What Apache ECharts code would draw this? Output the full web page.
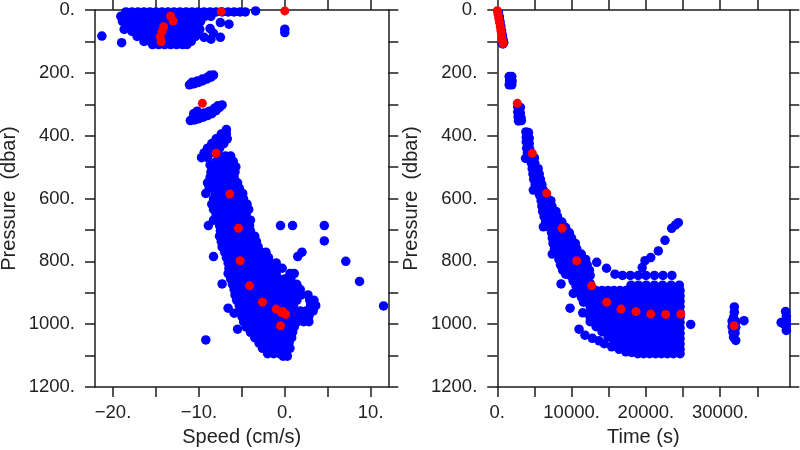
<!DOCTYPE html>
<html>
<head>
<meta charset="utf-8">
<script src="https://cdn.jsdelivr.net/npm/echarts@6/dist/echarts.min.js"></script>
<style>
html,body{margin:0;padding:0;background:#fff;}
#chart{width:800px;height:450px;}
</style>
</head>
<body>
<div id="chart"></div>
<script>
// ---------- axis ticks / labels ----------
const speedTicks = [-20, -15, -10, -5, 0, 5, 10];
const speedLabels = [-20, -10, 0, 10];
const timeTicks = [0, 5000, 10000, 15000, 20000, 25000, 30000, 35000];
const timeLabels = [0, 10000, 20000, 30000];
const pressureLabelStep = 200;

// ---------- left panel: speed (cm/s) vs pressure (dbar), blue ----------
const speedSurface = [
[-18.5,6],[-17.8,6],[-17.1,6],[-16.4,6],[-15.7,6],[-15.0,6],[-14.3,6],[-13.6,6],[-12.9,6],[-12.2,6],[-11.5,6],[-10.8,6],[-10.1,6],[-9.4,6],[-8.7,6],[-8.0,6],[-7.3,6],[-6.6,6],[-5.9,6],[-5.2,6],[-4.6,6],[-3.4,3],
[-19.1,20],[-18.4,20],[-17.7,20],[-17.0,20],[-16.3,20],[-15.6,20],[-14.9,20],[-14.2,20],[-13.5,20],[-12.8,20],[-12.1,20],[-11.4,20],[-10.7,20],[-10.0,20],[-9.3,20],[-8.6,20],
[-18.9,36],[-18.2,36],[-17.5,36],[-16.8,36],[-16.1,36],[-15.4,36],[-14.7,36],[-14.0,36],[-13.3,36],[-12.6,36],[-11.9,36],[-11.2,36],[-10.5,36],[-9.8,36],
[-18.4,52],[-17.7,52],[-17.0,52],[-16.3,52],[-15.6,52],[-14.9,52],[-14.2,52],[-13.5,52],[-12.8,52],[-12.1,52],[-11.4,52],[-10.7,52],[-10.1,52],
[-17.8,68],[-17.1,68],[-16.4,68],[-15.7,68],[-15.0,68],[-14.3,68],[-13.6,68],[-12.9,68],[-12.2,68],[-11.5,68],[-10.8,68],[-10.2,68],
[-17.2,84],[-16.5,84],[-15.8,84],[-15.1,84],[-14.4,84],[-13.7,84],[-13.0,84],[-12.3,84],[-11.6,84],[-10.9,84],[-10.4,84],
[-16.4,100],[-15.7,100],[-15.0,100],[-14.3,100],[-13.6,100],[-12.9,100],[-12.2,100],[-11.5,100],[-10.9,100],
[-15.4,110],[-14.7,110],[-14.0,110],[-13.3,110],[-12.6,110],[-11.9,110],[-11.4,110],
[-21.3,83],[-19.0,104],[-18.7,62],[-9.9,61],[-9.4,87],[-8.7,59],[-8.3,74],[-8.6,93],[-7.5,87],[-7.5,40],[-6.5,45],[0.0,61],[0.0,72]
];
const speedUpper = [
[-11.1,238],[-10.6,235],[-10.1,231],[-9.6,226],[-9.1,220],[-8.6,214],[-8.3,207],[-10.8,230],[-10.2,226],[-9.6,220],[-9.0,214],[-8.7,208],
[-11.0,352],[-10.5,350],[-10.0,346],[-9.5,341],[-9.0,336],[-8.5,330],[-8.0,320],[-7.6,310],[-7.3,302],[-10.6,330],[-10.2,322],[-10.0,336],[-9.4,328],[-8.8,322],[-8.2,313],[-7.8,305],[-10.6,340],
[-6.8,380],[-7.4,395],[-6.8,395],[-8.0,410],[-7.3,410],[-6.7,410],[-8.5,425],[-7.8,425],[-7.1,425],[-9.0,440],[-8.3,440],[-7.6,440],[-9.4,455],[-8.7,455],[-8.0,455],[-9.7,470],[-9.0,470],[-8.7,493]
];
const speedDeep = [
[-7.6,465],[-6.9,465],[-6.3,465],
[-8.0,482],[-7.3,482],[-6.6,482],[-6.0,482],
[-8.3,499],[-7.6,499],[-6.9,499],[-6.2,499],[-5.7,499],
[-8.6,516],[-7.9,516],[-7.2,516],[-6.5,516],[-5.8,516],
[-8.7,533],[-8.0,533],[-7.3,533],[-6.6,533],[-5.9,533],
[-9.0,550],[-8.3,550],[-7.6,550],[-6.9,550],[-6.2,550],[-5.5,550],
[-8.8,567],[-8.1,567],[-7.4,567],[-6.7,567],[-6.0,567],[-5.3,567],
[-9.2,584],[-8.1,584],[-7.4,584],[-6.7,584],[-6.0,584],[-5.3,584],[-4.9,584],
[-8.3,601],[-7.6,601],[-6.9,601],[-6.2,601],[-5.5,601],[-4.8,601],
[-8.5,618],[-7.8,618],[-7.1,618],[-6.4,618],[-5.7,618],[-5.0,618],[-4.4,618],
[-8.3,635],[-7.6,635],[-6.9,635],[-6.2,635],[-5.5,635],[-4.8,635],[-4.2,635],
[-8.0,652],[-7.3,652],[-6.6,652],[-5.9,652],[-5.2,652],[-4.5,652],
[-8.3,669],[-7.4,669],[-6.7,669],[-6.0,669],[-5.3,669],[-4.6,669],[-4.0,669],
[-8.9,686],[-7.6,686],[-6.9,686],[-6.2,686],[-5.5,686],[-4.8,686],[-4.1,686],[-0.5,686],[0.9,686],[4.6,686],
[-7.5,703],[-6.8,703],[-6.1,703],[-5.4,703],[-4.7,703],[-4.0,703],
[-7.6,720],[-6.9,720],[-6.2,720],[-5.5,720],[-4.8,720],[-4.1,720],[-3.5,720],
[4.6,735],
[-7.4,737],[-6.7,737],[-6.0,737],[-5.3,737],[-4.6,737],[-3.9,737],[-3.3,737],
[-7.3,754],[-6.6,754],[-5.9,754],[-5.2,754],[-4.5,754],[-3.8,754],[-3.1,754],
[-7.0,771],[-6.3,771],[-5.6,771],[-4.9,771],[-4.2,771],[-3.5,771],[-2.8,771],[-2.2,771],[2.0,771],
[-8.3,785],[1.5,785],
[-6.8,788],[-6.1,788],[-5.4,788],[-4.7,788],[-4.0,788],[-3.3,788],[-2.6,788],[-1.9,788],
[7.1,800],
[-6.6,805],[-5.9,805],[-5.2,805],[-4.5,805],[-3.8,805],[-3.1,805],[-2.4,805],[-1.7,805],[-1.0,805],
[-6.5,822],[-5.8,822],[-5.1,822],[-4.4,822],[-3.7,822],[-3.0,822],[-2.3,822],[-1.6,822],[-0.9,822],[-0.3,822],
[-6.6,839],[-5.9,839],[-5.2,839],[-4.5,839],[-3.8,839],[-3.1,839],[-2.4,839],[-1.7,839],[-1.0,839],[0.6,839],[1.1,839],
[-6.3,856],[-5.6,856],[-4.9,856],[-4.2,856],[-3.5,856],[-2.8,856],[-2.1,856],[-1.4,856],[-0.7,856],[0.0,856],[0.7,856],
[8.7,864],[-7.3,872],
[-6.1,873],[-5.4,873],[-4.7,873],[-4.0,873],[-3.3,873],[-2.6,873],[-1.9,873],[-1.2,873],[-0.5,873],[0.2,873],[0.9,873],[1.4,873],
[-5.9,890],[-5.2,890],[-4.5,890],[-3.8,890],[-3.1,890],[-2.4,890],[-1.7,890],[-1.0,890],[-0.3,890],[0.4,890],[1.1,890],[1.8,890],
[-5.8,907],[-5.1,907],[-4.4,907],[-3.7,907],[-3.0,907],[-2.3,907],[-1.6,907],[-0.9,907],[-0.2,907],[0.5,907],[1.2,907],[1.9,907],[2.7,907],
[-5.6,924],[-4.9,924],[-4.2,924],[-3.5,924],[-2.8,924],[-2.1,924],[-1.4,924],[-0.7,924],[0.0,924],[0.7,924],[1.4,924],[2.9,924],[3.4,924],
[-5.3,941],[-4.6,941],[-3.9,941],[-3.2,941],[-2.5,941],[-1.8,941],[-1.1,941],[-0.4,941],[0.3,941],[1.0,941],[3.0,941],[3.6,941],
[11.5,942],[-6.6,949],
[-5.2,958],[-4.5,958],[-3.8,958],[-3.1,958],[-2.4,958],[-1.7,958],[-1.0,958],[-0.3,958],[0.4,958],[1.1,958],[1.8,958],[2.5,958],[3.3,958],
[-5.9,965],
[-5.0,975],[-4.3,975],[-3.6,975],[-2.9,975],[-2.2,975],[-1.5,975],[-0.8,975],[-0.1,975],[0.6,975],[1.3,975],[2.0,975],[2.8,975],
[-4.8,992],[-4.1,992],[-3.4,992],[-2.7,992],[-2.0,992],[-1.3,992],[-0.6,992],[0.1,992],[0.8,992],[1.5,992],[2.2,992],[2.8,992],
[-4.5,1009],[-3.8,1009],[-3.1,1009],[-2.4,1009],[-1.7,1009],[-1.0,1009],[-0.3,1009],[0.4,1009],[1.1,1009],
[-5.5,1016],
[-4.0,1026],[-3.3,1026],[-2.6,1026],[-1.9,1026],[-1.2,1026],[-0.5,1026],[0.2,1026],[0.9,1026],
[-3.5,1043],[-2.8,1043],[-2.1,1043],[-1.4,1043],[-0.7,1043],[0.0,1043],[0.8,1043],
[-9.2,1050],
[-3.0,1060],[-2.3,1060],[-1.6,1060],[-0.9,1060],[-0.2,1060],[0.5,1060],
[-2.6,1077],[-1.9,1077],[-1.2,1077],[-0.5,1077],[0.2,1077],[0.6,1077],
[-2.0,1094],[-1.3,1094],[-0.6,1094],[0.1,1094],
[-0.2,1102],[0.3,1102]
];
// left panel: red points
const speedRed = [
[-7.4,5],[0.0,3],[-13.3,19],[-13.0,35],[-14.1,53],[-14.3,69],[-14.5,85],[-14.4,101],
[-9.6,297],[-8.0,456],[-6.4,586],[-5.4,695],[-5.2,798],[-4.1,878],[-2.6,930],[-1.0,952],[-0.4,963],[0.1,969],[-0.2,960],[-0.5,1005]
];

// ---------- right panel: time (s) vs pressure (dbar), blue ----------
const timeSurface = [
[150,8],[280,22],[380,38],[480,52],[580,66],[680,80],[780,94],[860,104],[760,108],[650,106]
];
const timeUpper = [
[1600,212],[1950,212],[1650,225],[2000,226],[1600,238],[1950,238],[1800,218],[1800,232],
[2750,308],[3100,310],[2750,325],[3100,328],[2800,340],[3200,343],[2850,353],[3250,352],[2950,318],[3000,335],
[3850,388],[4200,390],[3900,405],[4300,408],[3900,420],[4300,425],[3950,440],[4350,442],[4050,455],[4450,458],
[4150,471],[4600,471],[5000,471],[3800,472],
[4600,488],[5050,488],
[4700,505],[5150,505],[5500,505],
[4800,522],[5250,522],[5650,522],
[4900,539],[5350,539],[5800,539],
[5100,556],[5550,556],[6000,556],
[4850,573],[5300,573],[5750,573],[6200,573],
[5700,590],[6150,590],[6600,590],
[5900,607],[6350,607],[6800,607],[7200,607],
[6000,624],[6450,624],[6900,624],[7350,624],
[6100,641],[6550,641],[7000,641],[7450,641],[7900,641],
[6300,658],[6750,658],[7200,658],[7650,658],[8100,658],
[6500,675],[6950,675],[7400,675],[7850,675],[8300,675],[8700,675],
[6200,690],
[7000,692],[7450,692],[7900,692],[8350,692],[8800,692],[9200,692],
[7300,709],[7650,709],[8000,709],[8450,709],[8900,709],[9350,709],[9700,709],
[7400,726],[7750,726],[8200,726],[8650,726],[9100,726],[9550,726],[10000,726],
[7500,743],[7850,743],[8300,743],[8750,743],[9200,743],[9650,743],[10100,743],[10500,743],
[7700,760],[8050,760],[8500,760],[8950,760],[9400,760],[9850,760],[10300,760],[10700,760],
[7400,777],[8200,777],[8650,777],[9100,777],[9550,777],[10000,777],[10450,777],[10900,777],[11300,777],
[8300,794],[8750,794],[9200,794],[9650,794],[10100,794],[10550,794],[11000,794],[11450,794],[11900,794],
[13380,803],
[8500,811],[8950,811],[9400,811],[9850,811],[10300,811],[10750,811],[11200,811],[11650,811],[12100,811],
[14700,822],
[8800,828],[9250,828],[9700,828],[10150,828],[10600,828],[11050,828],[11500,828],[11950,828],[12400,828],
[9200,841],[15840,841],
[9800,845],[10250,845],[10700,845],[11150,845],[11600,845],[12050,845],[12500,845],
[16850,845],[17900,845],[18950,845],[20000,845],[21150,845],[22300,845],[23500,845],
[10200,862],[10650,862],[11100,862],[11550,862],[12000,862],
[8580,872],
[18000,876],[19000,876],[20050,876],[21150,876],[22250,876],[23400,876],[24500,876],
[10600,879],[11050,879],[11500,879],[11950,879],
[11000,896],[11450,896],[11900,896],
[10230,902],[11300,913],[11800,913],[11600,930],[9790,949],[11500,964],[11000,1016],
[11800,1035],[12800,1045],[13700,1053],[14400,1062],[15400,1072],[16400,1080],[17300,1088],
[19500,820],[19880,798],[20650,788],[21670,767],[22570,733],[23470,695],[24000,684],[24360,677],
[26030,1001]
];
const timeBlock = [
[12500,870],[12500,893],[12500,910],[12500,927],[12500,944],[12500,961],[12500,978],[12500,992],
[13300,893],[13300,910],[13300,927],[13300,944],[13300,961],[13300,978],[13300,995],[13300,1008],
[14100,893],[14100,910],[14100,927],[14100,944],[14100,961],[14100,978],[14100,995],[14100,1012],[14100,1024],
[14900,893],[14900,910],[14900,927],[14900,944],[14900,961],[14900,978],[14900,995],[14900,1012],[14900,1029],[14900,1040],
[15700,893],[15700,910],[15700,927],[15700,944],[15700,961],[15700,978],[15700,995],[15700,1012],[15700,1029],[15700,1046],[15700,1055],
[16500,893],[16500,910],[16500,927],[16500,944],[16500,961],[16500,978],[16500,995],[16500,1012],[16500,1029],[16500,1046],[16500,1063],
[17300,893],[17300,910],[17300,927],[17300,944],[17300,961],[17300,978],[17300,995],[17300,1012],[17300,1029],[17300,1046],[17300,1063],[17300,1076],
[18100,893],[18100,910],[18100,927],[18100,944],[18100,961],[18100,978],[18100,995],[18100,1012],[18100,1029],[18100,1046],[18100,1063],[18100,1080],[18100,1090],
[18900,893],[18900,910],[18900,927],[18900,944],[18900,961],[18900,978],[18900,995],[18900,1012],[18900,1029],[18900,1046],[18900,1063],[18900,1080],[18900,1094],
[19700,893],[19700,910],[19700,927],[19700,944],[19700,961],[19700,978],[19700,995],[19700,1012],[19700,1029],[19700,1046],[19700,1063],[19700,1080],[19700,1094],
[20500,893],[20500,910],[20500,927],[20500,944],[20500,961],[20500,978],[20500,995],[20500,1012],[20500,1029],[20500,1046],[20500,1063],[20500,1080],[20500,1094],
[21300,893],[21300,910],[21300,927],[21300,944],[21300,961],[21300,978],[21300,995],[21300,1012],[21300,1029],[21300,1046],[21300,1063],[21300,1080],[21300,1094],
[22100,893],[22100,910],[22100,927],[22100,944],[22100,961],[22100,978],[22100,995],[22100,1012],[22100,1029],[22100,1046],[22100,1063],[22100,1080],[22100,1094],
[22900,893],[22900,910],[22900,927],[22900,944],[22900,961],[22900,978],[22900,995],[22900,1012],[22900,1029],[22900,1046],[22900,1063],[22900,1080],[22900,1094],
[23700,893],[23700,910],[23700,927],[23700,944],[23700,961],[23700,978],[23700,995],[23700,1012],[23700,1029],[23700,1046],[23700,1063],[23700,1080],[23700,1094],
[24600,893],[24600,910],[24600,927],[24600,944],[24600,961],[24600,978],[24600,995],[24600,1012],[24600,1029],[24600,1046],[24600,1063],[24600,1080],[24600,1094]
];
const timeLate = [
[31900,945],[31900,962],[31800,978],[31600,990],[32100,992],[31600,1008],[32100,1010],[31700,1025],[32000,1028],[31800,1042],[32100,1052],
[33200,989],
[38200,995],[38800,960],[38900,975],[38900,990],[38900,1005],[38900,1020],[38600,1000]
];
// right panel: red points
const timeRed = [
[0,2],[100,14],[200,27],[300,40],[400,53],[480,66],[560,79],[640,91],[720,101],[790,107],
[2693,297],[4712,456],[6650,583],[8711,695],[10690,798],[12709,878],[14728,930],[16653,952],
[18673,960],[20650,968],[22670,969],[24690,968],[31867,1005]
];

// ---------- chart ----------
const AX = '#1c1c1c';
const FONT = '"Liberation Sans", Arial, Helvetica, sans-serif';
const TXT = '#222';
function numLabel(v) { return (v < 0 ? '\u2212' : '') + Math.abs(v) + '.'; }

function xAxisDef(grid, pos, min, max, ticks, labels, name) {
  return {
    type: 'value', gridIndex: grid, position: pos, min: min, max: max,
    axisLine: { show: true, onZero: false, lineStyle: { color: AX, width: 1.5 } },
    axisTick: { show: true, inside: false, length: 10, customValues: ticks, lineStyle: { color: AX, width: 1.5 } },
    axisLabel: labels ? { show: true, customValues: labels, margin: 16, color: TXT, fontSize: 18.5, fontFamily: FONT, formatter: numLabel } : { show: false },
    splitLine: { show: false },
    name: name || '', nameLocation: 'middle', nameGap: 40,
    nameTextStyle: { color: TXT, fontSize: 20, fontFamily: FONT }
  };
}
function yAxisDef(grid, pos, labels, name) {
  return {
    type: 'value', gridIndex: grid, position: pos, min: 0, max: 1200, interval: 100, inverse: true,
    axisLine: { show: true, onZero: false, lineStyle: { color: AX, width: 1.5 } },
    axisTick: { show: true, inside: false, length: 10, lineStyle: { color: AX, width: 1.5 } },
    axisLabel: labels ? { show: true, margin: 20, color: TXT, fontSize: 18.5, fontFamily: FONT,
      formatter: function (v) { return v % pressureLabelStep === 0 ? v + '.' : ''; } } : { show: false },
    splitLine: { show: false },
    name: name || '', nameLocation: 'middle', nameGap: 76,
    nameTextStyle: { color: TXT, fontSize: 20, fontFamily: FONT }
  };
}
function scatter(xi, yi, data, color, z, size) {
  return { type: 'scatter', xAxisIndex: xi, yAxisIndex: yi, data: data, symbol: 'circle', symbolSize: size,
    itemStyle: { color: color, opacity: 1 }, z: z, silent: true, clip: true, animation: false };
}

const chart = echarts.init(document.getElementById('chart'), null, { renderer: 'canvas' });
chart.setOption({
  animation: false,
  backgroundColor: '#ffffff',
  grid: [
    { left: 95, right: 411.7, top: 10, bottom: 63, containLabel: false, outerBoundsMode: 'none' },
    { left: 497.3, right: 10.7, top: 10, bottom: 63, containLabel: false, outerBoundsMode: 'none' }
  ],
  xAxis: [
    xAxisDef(0, 'bottom', -22.1, 12.05, speedTicks, speedLabels, 'Speed (cm/s)'),
    xAxisDef(0, 'top', -22.1, 12.05, speedTicks, null, ''),
    xAxisDef(1, 'bottom', 0, 39300, timeTicks, timeLabels, 'Time (s)'),
    xAxisDef(1, 'top', 0, 39300, timeTicks, null, '')
  ],
  yAxis: [
    yAxisDef(0, 'left', true, 'Pressure  (dbar)'),
    yAxisDef(0, 'right', false, ''),
    yAxisDef(1, 'left', true, 'Pressure  (dbar)'),
    yAxisDef(1, 'right', false, '')
  ],
  series: [
    scatter(0, 0, speedSurface, '#0000ff', 2, 9.5),
    scatter(0, 0, speedUpper, '#0000ff', 2, 9.5),
    scatter(0, 0, speedDeep, '#0000ff', 2, 9.5),
    scatter(0, 0, speedRed, '#ff0000', 3, 9),
    scatter(2, 2, timeSurface, '#0000ff', 2, 9.5),
    scatter(2, 2, timeUpper, '#0000ff', 2, 9.5),
    scatter(2, 2, timeBlock, '#0000ff', 2, 9.5),
    scatter(2, 2, timeLate, '#0000ff', 2, 9.5),
    scatter(2, 2, timeRed, '#ff0000', 3, 9)
  ]
});
</script>
</body>
</html>
